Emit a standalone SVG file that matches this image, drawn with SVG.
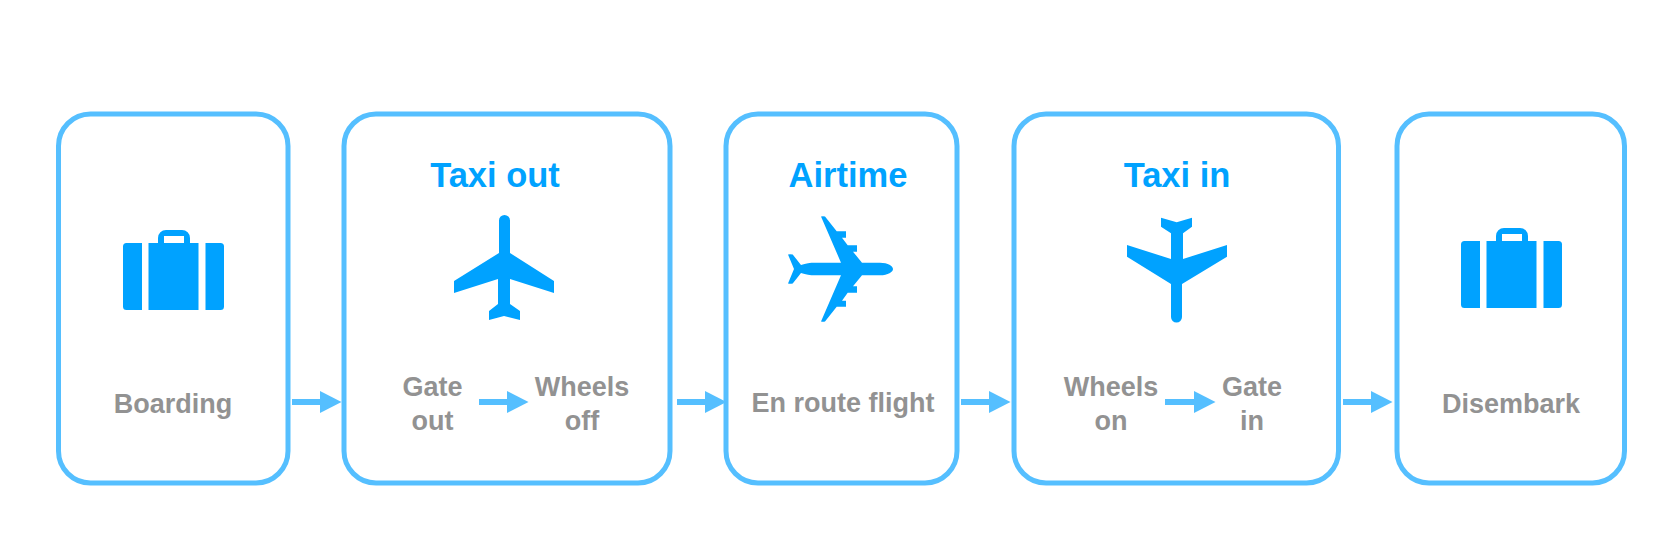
<svg xmlns="http://www.w3.org/2000/svg" width="1656" height="558" viewBox="0 0 1656 558">
<defs>
<g id="case"><path d="M19 13V80H3.500a3.500 3.500 0 0 1-3.500-3.500V16.500a3.500 3.500 0 0 1 3.500-3.500Z"/><path d="M82.500 13H97.500a3.500 3.500 0 0 1 3.500 3.500V76.500a3.500 3.500 0 0 1-3.500 3.500H82.500Z"/><rect x="25.500" y="13" width="50" height="67"/><path d="M35 13V8a8 8 0 0 1 8-8h16a8 8 0 0 1 8 8v5h-6V6H41v7z"/></g>
<polygon id="head" points="0,-11 21.500,0 0,11"/>
</defs>
<style>
.box{fill:#fff;stroke:#55bfff;stroke-width:5}
.ico{fill:#00a2ff}
.ln{stroke:#55bfff;stroke-width:6}
.hd{fill:#55bfff}
.t{font-family:"Liberation Sans",Arial,sans-serif;font-weight:700;font-size:27px;fill:#929292;text-anchor:middle}
.h{font-family:"Liberation Sans",Arial,sans-serif;font-weight:700;font-size:34.500px;fill:#00a2ff;text-anchor:middle}
</style>
<rect width="1656" height="558" fill="#fff"/>
<g id="boarding"><rect class="box" x="58.500" y="114" width="229.500" height="369" rx="32"/><use href="#case" x="123" y="230" class="ico"/><text class="t" x="173" y="413">Boarding</text></g>
<g id="taxi-out"><rect class="box" x="344" y="114" width="326" height="369" rx="32"/><text class="h" x="495" y="187">Taxi out</text>
<path class="ico" d="M499 220.500a5.500 5.500 0 0 1 11 0V253L554 281V293L510 279V304L520 311V320L504 316L489 320V311L498 304V279L454 293V281L499 253Z"/>
<text class="t" x="432.500" y="396">Gate</text><text class="t" x="432.500" y="429.500">out</text><text class="t" x="582" y="396">Wheels</text><text class="t" x="582" y="429.500">off</text></g>
<g id="airtime"><rect class="box" x="726" y="114" width="231" height="369" rx="32"/><text class="h" x="848" y="187">Airtime</text>
<path class="ico" d="M893 269C893 266 888 262.700 880 262.700H862L853 251.700H857V245.300H847.700L842 237.700H846V231.300H836.700L825 216.500Q823 216 821 216.500L841 262.700H815C810 262.700 806 263.300 801 265L792.700 254.500Q790 254 788 254.500L794 269L788 283.500Q790 284 792.700 283.500L801 273C806 274.700 810 275.300 815 275.300H841L821 321.500Q823 322 825 321.500L836.700 306.700H846V300.700H842L847.700 292.700H857V286.300H853L862 275.300H880C888 275.300 893 272 893 269Z"/>
<text class="t" x="843" y="412">En route flight</text></g>
<g id="taxi-in"><rect class="box" x="1014" y="114" width="324.500" height="369" rx="32"/><text class="h" x="1177" y="187">Taxi in</text>
<path class="ico" d="M1161 217.700L1176.700 222.300L1192 217.700V226.700L1183 233.300V259L1227 245V256.700L1182 284V317a5.500 5.500 0 0 1-11 0V284L1127 256.700V245L1171 259V233.300L1161 226.700Z"/>
<text class="t" x="1111" y="396">Wheels</text><text class="t" x="1111" y="429.500">on</text><text class="t" x="1252" y="396">Gate</text><text class="t" x="1252" y="429.500">in</text></g>
<g id="disembark"><rect class="box" x="1397" y="114" width="227.500" height="369" rx="32"/><use href="#case" x="1461" y="228" class="ico"/><text class="t" x="1511" y="413">Disembark</text></g>
<g id="connectors">
<line class="ln" x1="292" y1="402" x2="321" y2="402"/><use href="#head" x="320" y="402" class="hd"/>
<line class="ln" x1="479" y1="402" x2="508" y2="402"/><use href="#head" x="507" y="402" class="hd"/>
<line class="ln" x1="677" y1="402" x2="706" y2="402"/><use href="#head" x="705" y="402" class="hd"/>
<line class="ln" x1="961" y1="402" x2="990" y2="402"/><use href="#head" x="989" y="402" class="hd"/>
<line class="ln" x1="1165" y1="402" x2="1195" y2="402"/><use href="#head" x="1194" y="402" class="hd"/>
<line class="ln" x1="1343" y1="402" x2="1372" y2="402"/><use href="#head" x="1371" y="402" class="hd"/>
</g>
</svg>
